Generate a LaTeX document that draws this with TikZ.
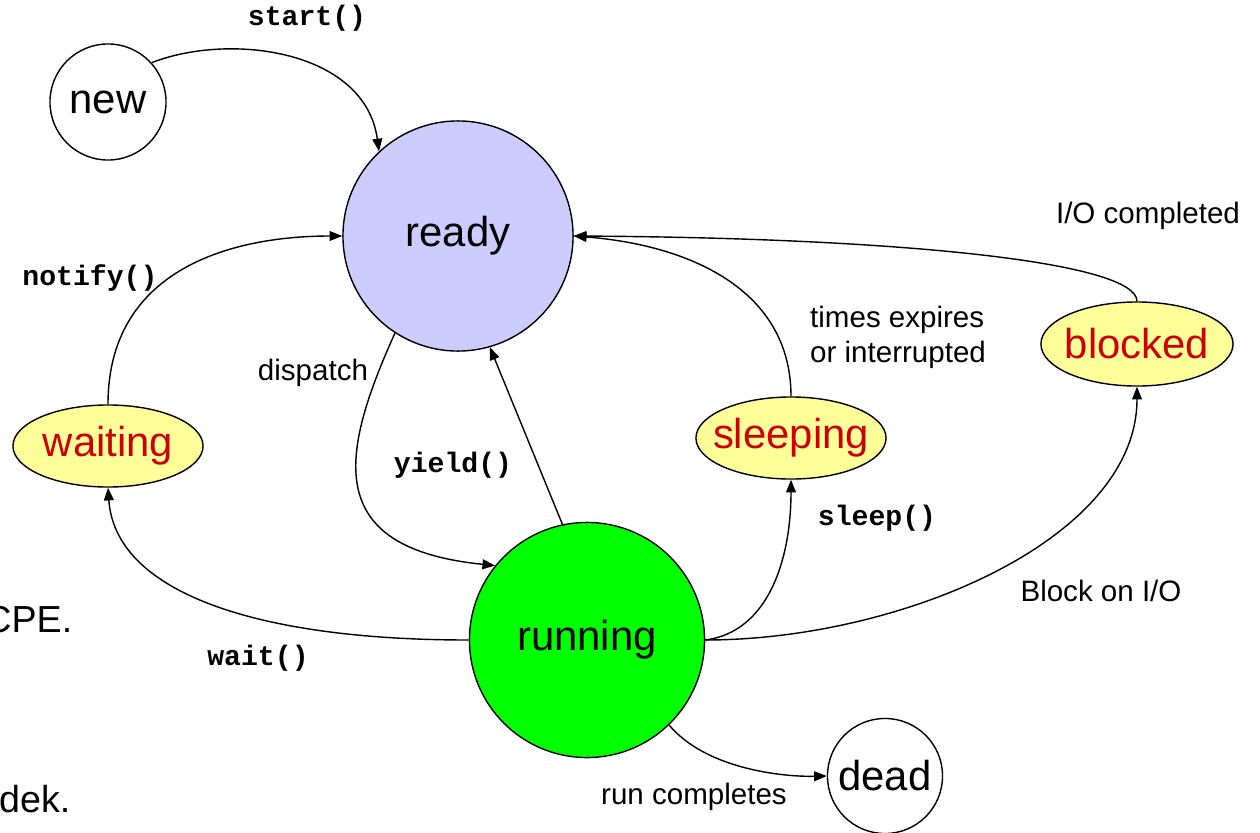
\documentclass[tikz,border=0pt]{standalone}
\usepackage{fontspec}
\setmainfont{Liberation Sans}
\setmonofont{Liberation Mono}
\usetikzlibrary{arrows.meta,shapes.geometric}
\definecolor{readyfill}{RGB}{204,204,255}
\definecolor{runfill}{RGB}{0,255,0}
\definecolor{ovalfill}{RGB}{255,255,153}
\definecolor{ovaltext}{RGB}{204,0,0}

\begin{document}
\begin{tikzpicture}[x=0.01cm, y=-0.01cm, >={Triangle[length=3.6pt,width=2.8pt]},
    statecirc/.style={circle, draw, thin, inner sep=0pt, font=\fontsize{11.9}{14}\selectfont},
    stateoval/.style={ellipse, draw, thin, fill=ovalfill, text=ovaltext, inner xsep=-0.11cm, inner ysep=0pt,
      minimum width=1.9cm, minimum height=0.82cm, font=\fontsize{11.9}{14}\selectfont},
    codelbl/.style={font=\fontsize{8}{10}\selectfont\ttfamily\bfseries, inner sep=1pt},
    textlbl/.style={font=\fontsize{8.4}{10}\selectfont, inner sep=1pt},
    trans/.style={->, thin}]

\useasboundingbox (0,0) rectangle (1260,833);

% states
\node[statecirc, minimum size=1.16cm] (new) at (108,102) {new};
\node[statecirc, fill=readyfill, minimum size=2.3cm] (ready) at (458,236) {ready};
\node[statecirc, fill=runfill, minimum size=2.35cm] (running) at (587,640) {running};
\node[statecirc, minimum size=1.15cm] (dead) at (885,776) {dead};
\node[stateoval] (waiting) at (108,446) {waiting};
\node[stateoval] (sleeping) at (791,438) {sleeping};
\node[stateoval, minimum width=1.92cm, minimum height=0.84cm] (blocked) at (1137,344) {blocked};

% transitions
\draw[trans] (new.42) .. controls (230,32) and (365,50) .. (ready.133);
\draw[trans] (waiting.north) .. controls (108,270) and (230,236) .. (ready.west);
\draw[trans] (ready.237) .. controls (340,455) and (322,548) .. (running.141);
\draw[trans] (running.102) -- (ready.286);
\draw[trans] (running.west) .. controls (250,640) and (115,590) .. (waiting.south);
\draw[trans] (running.east) .. controls (768,632) and (791,560) .. (sleeping.south);
\draw[trans] (sleeping.north) .. controls (791,290) and (690,245) .. (ready.east);
\draw[trans] (blocked.north) .. controls (1137,262) and (900,238) .. (ready.east);
\draw[trans] (running.east) .. controls (900,640) and (1137,540) .. (blocked.south);
\draw[trans] (running.314) .. controls (705,768) and (780,777) .. (dead.west);

% labels
\node[codelbl] (lblstart) at (307,18) {start()};
\node[codelbl] (lblnotify) at (90,278) {notify()};
\node[textlbl] (lbldispatch) at (313,373) {dispatch};
\node[codelbl] (lblyield) at (453,465) {yield()};
\node[textlbl, align=left, anchor=west] (lbltimes) at (806,337) {times expires\\or interrupted};
\node[textlbl] (lbliodone) at (1148,216) {I/O completed};
\node[codelbl] (lblsleep) at (877,518) {sleep()};
\node[textlbl] (lblblock) at (1101,591) {Block on I/O};
\node[codelbl] (lblwait) at (258,658) {wait()};
\node[textlbl] (lblrun) at (694,797) {run completes};

% cut-off text at the left edge
\node[font=\fontsize{10.7}{13}\selectfont, anchor=base east, inner sep=0pt] (cutcpe) at (73,632) {CPE.};
\node[font=\fontsize{10.7}{13}\selectfont, anchor=base east, inner sep=0pt] (cutdek) at (71,812) {dek.};

\end{tikzpicture}
\end{document}
